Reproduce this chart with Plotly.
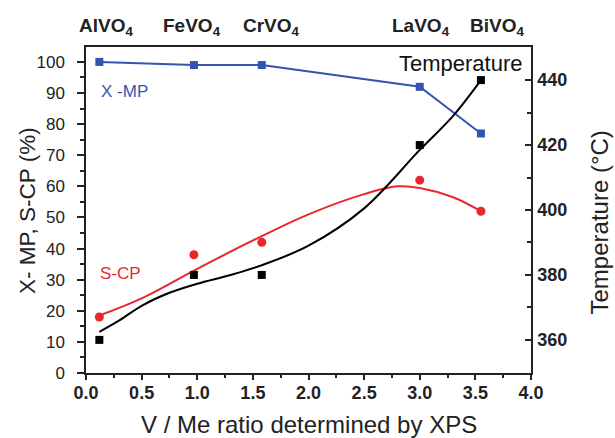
import plotly.graph_objects as go

# data
ratio = [0.12, 0.97, 1.58, 3.0, 3.55]
x_mp = [100, 99, 99, 92, 77]
s_cp = [18, 38, 42, 62, 52]
temperature = [360, 380, 380, 420, 440]

# fitted curves
scp_fit_x = [0.12, 0.5, 1.0, 1.58, 2.0, 2.5, 2.8, 3.0, 3.3, 3.55]
scp_fit_y = [18.5, 24, 33.5, 44, 51, 57.5, 60, 59.5, 56.5, 52]
temp_fit_x = [0.12, 0.3, 0.5, 0.75, 1.0, 1.3, 1.58, 2.0, 2.5, 3.0, 3.3, 3.55]
temp_fit_y = [362.5, 366, 370.5, 374.5, 377.3, 380, 383, 389, 400.5, 418.5, 429, 440]

compounds = ["AlVO<sub>4</sub>", "FeVO<sub>4</sub>", "CrVO<sub>4</sub>", "LaVO<sub>4</sub>", "BiVO<sub>4</sub>"]
compound_pos = [0.18, 0.95, 1.67, 3.01, 3.69]

BLUE = "#3553B5"
RED = "#E8282C"
INK = "#222222"
FONT = "Liberation Sans, Arial, sans-serif"

fig = go.Figure()
fig.add_trace(go.Scatter(x=ratio, y=x_mp, mode="lines+markers",
                         line=dict(color=BLUE, width=2),
                         marker=dict(symbol="square", size=8, color=BLUE)))
fig.add_trace(go.Scatter(x=scp_fit_x, y=scp_fit_y, mode="lines",
                         line=dict(color=RED, width=2, shape="spline")))
fig.add_trace(go.Scatter(x=ratio, y=s_cp, mode="markers",
                         marker=dict(symbol="circle", size=9, color=RED)))
fig.add_trace(go.Scatter(x=temp_fit_x, y=temp_fit_y, mode="lines", yaxis="y2",
                         line=dict(color="black", width=2, shape="spline")))
fig.add_trace(go.Scatter(x=ratio, y=temperature, mode="markers", yaxis="y2",
                         marker=dict(symbol="square", size=8, color="black")))

axis_common = dict(showline=True, linecolor=INK, linewidth=1.5,
                   tickwidth=1.5, tickcolor=INK, showgrid=False,
                   zeroline=False, automargin=False)

fig.update_layout(
    width=615, height=438,
    margin=dict(l=86, r=84, t=47, b=65),
    paper_bgcolor="white", plot_bgcolor="white",
    showlegend=False,
    font=dict(family=FONT, color=INK),
    xaxis=dict(range=[0, 4], dtick=0.5, tickformat=".1f", mirror=True,
               ticks="outside", ticklen=5, ticklabelstandoff=-2,
               tickfont=dict(size=18, weight="bold", color=INK),
               minor=dict(ticks="outside", ticklen=3, dtick=0.25, tickcolor=INK, tickwidth=1.5),
               **axis_common),
    yaxis=dict(range=[0, 104.8], dtick=10, mirror=False,
               ticks="outside", ticklen=7, ticklabelstandoff=9,
               tickfont=dict(size=17, color=INK),
               minor=dict(ticks="outside", ticklen=4, dtick=5, tickcolor=INK, tickwidth=1.5),
               **axis_common),
    yaxis2=dict(range=[349.8, 450.2], dtick=20, overlaying="y", side="right",
                ticks="inside", ticklen=6, ticklabelstandoff=1,
                tickfont=dict(size=18, weight="bold", color=INK),
                minor=dict(ticks="inside", ticklen=4, dtick=10, tickcolor=INK, tickwidth=1.5),
                **axis_common),
)

# axis titles
fig.add_annotation(x=0.5, y=-0.159, xref="paper", yref="paper",
                   xanchor="center", yanchor="middle",
                   text="V / Me ratio determined by XPS", showarrow=False,
                   font=dict(size=24, color=INK))
fig.add_annotation(x=-0.1326, y=0.5, xref="paper", yref="paper", textangle=-90,
                   xanchor="center", yanchor="middle",
                   text="X- MP, S-CP (%)", showarrow=False,
                   font=dict(size=22.5, color=INK))
fig.add_annotation(x=1.153, y=0.462, xref="paper", yref="paper", textangle=-90,
                   xanchor="center", yanchor="middle",
                   text="Temperature (°C)", showarrow=False,
                   font=dict(size=24, color=INK))

for name, pos in zip(compounds, compound_pos):
    fig.add_annotation(x=pos, y=1, xref="x", yref="paper", xanchor="center", yanchor="bottom",
                       yshift=6, text="<b>" + name + "</b>", showarrow=False,
                       font=dict(size=19, color=INK))

fig.add_annotation(x=3.946, y=99.5, xref="x", yref="y", xanchor="right", yanchor="middle",
                   text="Temperature", showarrow=False, font=dict(size=22, color="#111"))
fig.add_annotation(x=0.35, y=90.5, xref="x", yref="y", xanchor="center", yanchor="middle",
                   text="X -MP", showarrow=False, font=dict(size=17, color=BLUE))
fig.add_annotation(x=0.313, y=32, xref="x", yref="y", xanchor="center", yanchor="middle",
                   text="S-CP", showarrow=False, font=dict(size=17, color=RED))

fig.write_html("out.html", config={"displayModeBar": False},
               post_script="document.body.style.margin='0';")
